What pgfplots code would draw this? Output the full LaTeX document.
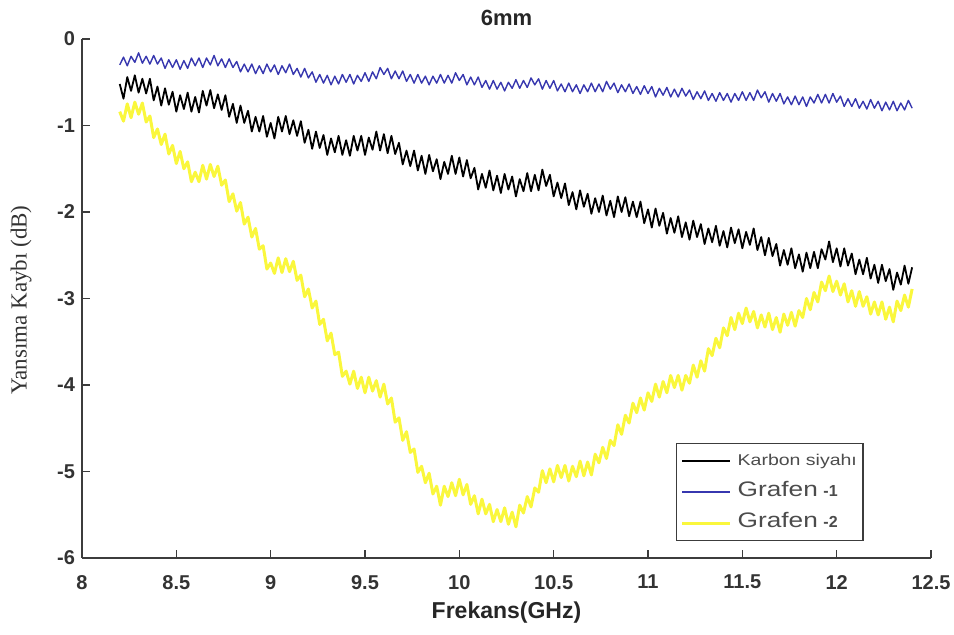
\documentclass[border=0pt]{standalone}
\usepackage{fontspec}
\setmainfont{Liberation Sans}
\newfontfamily\serifY{Liberation Serif}
\newfontfamily\legfont[FakeStretch=1.25]{Liberation Sans}
\usepackage{pgfplots}
\usepackage{pgfplotstable}
\pgfplotsset{compat=1.18}
\definecolor{axgray}{RGB}{60,60,60}
\definecolor{gblue}{RGB}{55,55,175}
\definecolor{gyellow}{RGB}{250,247,60}
\pgfplotstableread{
x k b y
8.20 -0.52 -0.30 -0.84
8.22 -0.69 -0.21 -0.95
8.24 -0.44 -0.31 -0.75
8.26 -0.60 -0.20 -0.91
8.28 -0.42 -0.27 -0.73
8.30 -0.62 -0.16 -0.87
8.32 -0.46 -0.28 -0.74
8.34 -0.63 -0.20 -0.96
8.36 -0.46 -0.29 -0.89
8.38 -0.71 -0.19 -1.14
8.40 -0.55 -0.29 -1.04
8.42 -0.77 -0.22 -1.22
8.44 -0.57 -0.34 -1.10
8.46 -0.76 -0.24 -1.33
8.48 -0.61 -0.33 -1.23
8.50 -0.84 -0.24 -1.44
8.52 -0.65 -0.35 -1.30
8.54 -0.81 -0.25 -1.50
8.56 -0.62 -0.34 -1.42
8.58 -0.84 -0.22 -1.65
8.60 -0.67 -0.31 -1.54
8.62 -0.85 -0.22 -1.65
8.64 -0.60 -0.33 -1.46
8.66 -0.77 -0.22 -1.62
8.68 -0.59 -0.30 -1.45
8.70 -0.80 -0.19 -1.59
8.72 -0.64 -0.31 -1.47
8.74 -0.82 -0.23 -1.69
8.76 -0.65 -0.33 -1.63
8.78 -0.90 -0.23 -1.88
8.80 -0.75 -0.33 -1.79
8.82 -0.97 -0.26 -1.99
8.84 -0.77 -0.38 -1.89
8.86 -0.97 -0.29 -2.14
8.88 -0.83 -0.38 -2.06
8.90 -1.07 -0.29 -2.29
8.92 -0.90 -0.40 -2.19
8.94 -1.07 -0.31 -2.43
8.96 -0.89 -0.40 -2.39
8.98 -1.13 -0.29 -2.66
9.00 -0.97 -0.38 -2.59
9.02 -1.15 -0.30 -2.71
9.04 -0.90 -0.41 -2.53
9.06 -1.07 -0.31 -2.70
9.08 -0.89 -0.39 -2.54
9.10 -1.10 -0.29 -2.69
9.12 -0.94 -0.41 -2.57
9.14 -1.12 -0.34 -2.79
9.16 -0.95 -0.44 -2.73
9.18 -1.20 -0.34 -2.98
9.20 -1.05 -0.45 -2.89
9.22 -1.27 -0.38 -3.11
9.24 -1.07 -0.50 -3.03
9.26 -1.26 -0.41 -3.30
9.28 -1.11 -0.51 -3.24
9.30 -1.34 -0.42 -3.49
9.32 -1.15 -0.53 -3.40
9.34 -1.31 -0.43 -3.65
9.36 -1.12 -0.52 -3.62
9.38 -1.34 -0.41 -3.90
9.40 -1.17 -0.50 -3.84
9.42 -1.35 -0.41 -3.99
9.44 -1.12 -0.52 -3.84
9.46 -1.29 -0.42 -4.04
9.48 -1.12 -0.49 -3.91
9.50 -1.34 -0.39 -4.09
9.52 -1.14 -0.49 -3.91
9.54 -1.28 -0.38 -4.07
9.56 -1.07 -0.46 -3.95
9.58 -1.29 -0.33 -4.14
9.60 -1.10 -0.41 -3.99
9.62 -1.32 -0.34 -4.22
9.64 -1.12 -0.46 -4.15
9.66 -1.33 -0.37 -4.43
9.68 -1.20 -0.46 -4.38
9.70 -1.45 -0.37 -4.64
9.72 -1.29 -0.49 -4.54
9.74 -1.47 -0.41 -4.78
9.76 -1.29 -0.51 -4.74
9.78 -1.52 -0.41 -5.01
9.80 -1.35 -0.51 -4.94
9.82 -1.56 -0.43 -5.13
9.84 -1.34 -0.53 -5.02
9.86 -1.53 -0.43 -5.26
9.88 -1.39 -0.51 -5.17
9.90 -1.62 -0.41 -5.39
9.92 -1.42 -0.51 -5.17
9.94 -1.56 -0.42 -5.29
9.96 -1.35 -0.51 -5.13
9.98 -1.56 -0.39 -5.28
10.00 -1.37 -0.48 -5.09
10.02 -1.59 -0.41 -5.27
10.04 -1.40 -0.53 -5.15
10.06 -1.61 -0.44 -5.38
10.08 -1.49 -0.53 -5.28
10.10 -1.74 -0.44 -5.49
10.12 -1.56 -0.56 -5.32
10.14 -1.72 -0.48 -5.49
10.16 -1.52 -0.58 -5.38
10.18 -1.75 -0.48 -5.58
10.20 -1.58 -0.58 -5.44
10.22 -1.78 -0.50 -5.58
10.24 -1.56 -0.60 -5.42
10.26 -1.74 -0.50 -5.61
10.28 -1.59 -0.57 -5.47
10.30 -1.82 -0.47 -5.64
10.32 -1.62 -0.57 -5.39
10.34 -1.76 -0.48 -5.48
10.36 -1.55 -0.56 -5.29
10.38 -1.76 -0.45 -5.41
10.40 -1.57 -0.53 -5.19
10.42 -1.75 -0.46 -5.24
10.44 -1.51 -0.58 -4.99
10.46 -1.70 -0.48 -5.13
10.48 -1.57 -0.57 -4.97
10.50 -1.82 -0.48 -5.12
10.52 -1.66 -0.60 -4.93
10.54 -1.84 -0.52 -5.07
10.56 -1.67 -0.61 -4.93
10.58 -1.92 -0.51 -5.11
10.60 -1.77 -0.61 -4.94
10.62 -1.97 -0.53 -5.06
10.64 -1.75 -0.63 -4.88
10.66 -1.94 -0.53 -5.05
10.68 -1.79 -0.61 -4.89
10.70 -2.02 -0.51 -5.04
10.72 -1.84 -0.61 -4.80
10.74 -2.00 -0.52 -4.90
10.76 -1.81 -0.61 -4.72
10.78 -2.04 -0.49 -4.85
10.80 -1.87 -0.58 -4.64
10.82 -2.06 -0.51 -4.70
10.84 -1.82 -0.62 -4.46
10.86 -2.00 -0.53 -4.57
10.88 -1.83 -0.61 -4.35
10.90 -2.05 -0.52 -4.44
10.92 -1.88 -0.63 -4.21
10.94 -2.06 -0.55 -4.32
10.96 -1.88 -0.64 -4.15
10.98 -2.13 -0.54 -4.29
11.00 -1.97 -0.63 -4.09
11.02 -2.18 -0.55 -4.19
11.04 -1.96 -0.67 -3.99
11.06 -2.16 -0.57 -4.14
11.08 -2.01 -0.65 -3.96
11.10 -2.25 -0.56 -4.09
11.12 -2.07 -0.67 -3.89
11.14 -2.24 -0.58 -4.03
11.16 -2.05 -0.67 -3.89
11.18 -2.29 -0.57 -4.06
11.20 -2.12 -0.66 -3.89
11.22 -2.32 -0.59 -3.98
11.24 -2.10 -0.70 -3.77
11.26 -2.29 -0.61 -3.91
11.28 -2.14 -0.69 -3.72
11.30 -2.37 -0.60 -3.84
11.32 -2.19 -0.71 -3.58
11.34 -2.35 -0.63 -3.66
11.36 -2.16 -0.72 -3.46
11.38 -2.39 -0.62 -3.57
11.40 -2.22 -0.71 -3.34
11.42 -2.41 -0.63 -3.43
11.44 -2.18 -0.73 -3.22
11.46 -2.36 -0.63 -3.36
11.48 -2.20 -0.71 -3.17
11.50 -2.42 -0.61 -3.29
11.52 -2.23 -0.71 -3.11
11.54 -2.38 -0.62 -3.27
11.56 -2.19 -0.71 -3.15
11.58 -2.44 -0.59 -3.34
11.60 -2.29 -0.68 -3.19
11.62 -2.50 -0.61 -3.33
11.64 -2.30 -0.73 -3.17
11.66 -2.51 -0.63 -3.36
11.68 -2.37 -0.72 -3.22
11.70 -2.62 -0.63 -3.39
11.72 -2.44 -0.75 -3.18
11.74 -2.61 -0.67 -3.31
11.76 -2.42 -0.76 -3.16
11.78 -2.65 -0.66 -3.32
11.80 -2.49 -0.76 -3.14
11.82 -2.69 -0.67 -3.22
11.84 -2.47 -0.78 -3.00
11.86 -2.65 -0.67 -3.13
11.88 -2.46 -0.74 -2.93
11.90 -2.65 -0.64 -3.04
11.92 -2.43 -0.74 -2.81
11.94 -2.55 -0.64 -2.91
11.96 -2.34 -0.74 -2.74
11.98 -2.58 -0.63 -2.92
12.00 -2.42 -0.73 -2.80
12.02 -2.63 -0.66 -2.96
12.04 -2.42 -0.78 -2.83
12.06 -2.62 -0.69 -3.04
12.08 -2.48 -0.78 -2.91
12.10 -2.72 -0.69 -3.09
12.12 -2.55 -0.80 -2.92
12.14 -2.72 -0.72 -3.09
12.16 -2.53 -0.81 -2.98
12.18 -2.77 -0.70 -3.18
12.20 -2.61 -0.80 -3.04
12.22 -2.82 -0.72 -3.19
12.24 -2.61 -0.83 -3.04
12.26 -2.80 -0.73 -3.24
12.28 -2.66 -0.82 -3.10
12.30 -2.90 -0.72 -3.27
12.32 -2.70 -0.83 -3.03
12.34 -2.84 -0.74 -3.14
12.36 -2.62 -0.82 -2.96
12.38 -2.83 -0.71 -3.10
12.40 -2.64 -0.80 -2.89
}\datatable
\begin{document}
\begin{tikzpicture}
\path[use as bounding box] (-41pt,-38.5pt) rectangle (436pt,279pt);
\begin{axis}[
  at={(0,0)}, anchor=south west,
  scale only axis, width=424.5pt, height=259.5pt,
  xmin=8, xmax=12.5, ymin=-6, ymax=0,
  xtick={8,8.5,9,9.5,10,10.5,11,11.5,12,12.5},
  ytick={-6,-5,-4,-3,-2,-1,0},
  axis lines=left,
  axis line style={-, draw=axgray, line width=0.8pt},
  tick style={draw=axgray, line width=0.7pt},
  tick align=inside, major tick length=4pt,
  /pgf/number format/assume math mode=true,
  ticklabel style={font=\fontsize{10}{12}\selectfont\bfseries, text=black!80},
  xticklabel style={yshift=-5pt},
  title={\fontsize{11}{13}\selectfont\bfseries 6mm},
  title style={at={(rel axis cs:0.5,1)}, anchor=center, yshift=4.75pt, inner sep=0pt, text=black!85},
  xlabel={\fontsize{11.5}{13}\selectfont\bfseries Frekans(GHz)},
  xlabel style={at={(rel axis cs:0.5,0)}, anchor=center, yshift=-27.5pt, inner sep=0pt, text=black!85},
  ylabel={\serifY\fontsize{11.5}{13}\selectfont Yansıma Kaybı (dB)},
  ylabel style={at={(rel axis cs:-0.0718,0.497)}, anchor=center, inner sep=0pt, text=black!80},
  legend style={at={(rel axis cs:0.6996,0.2216)}, anchor=north west,
    draw=axgray, line width=0.7pt, inner xsep=2pt, inner ysep=1pt,
    nodes={text height=9pt, text depth=4.5pt, inner sep=1pt, anchor=west},
    column sep=2pt, row sep=0pt, text=black!70},
  legend cell align=left,
  legend image code/.code={\draw[#1] (0pt,0pt) -- (24pt,0pt);},
  every axis plot/.append style={line join=round},
]
\addplot[black, line width=0.9pt] table[x=x, y=k] {\datatable};
\addlegendentry{{\legfont\fontsize{7.8}{9}\selectfont Karbon siyahı}}
\addplot[gblue, line width=0.7pt] table[x=x, y=b] {\datatable};
\addlegendentry{{\legfont\fontsize{10.5}{12}\selectfont Grafen} {\fontsize{8}{9}\selectfont\bfseries -1}}
\addplot[gyellow, line width=1.5pt] table[x=x, y=y] {\datatable};
\addlegendentry{{\legfont\fontsize{10.5}{12}\selectfont Grafen} {\fontsize{8}{9}\selectfont\bfseries -2}}
\end{axis}
\end{tikzpicture}
\end{document}
